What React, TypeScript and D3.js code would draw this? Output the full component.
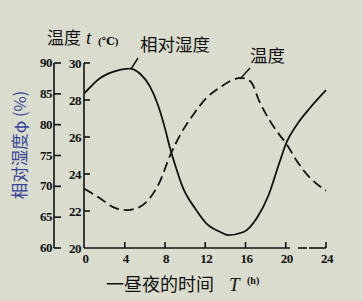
import React from "react";
import * as d3 from "d3";

const xTicks = [0, 4, 8, 12, 16, 20, 24];
const tempTicks = [20, 22, 24, 26, 28, 30];
const humTicks = [60, 65, 70, 75, 80, 85, 90];

const humHours = [0, 1.5, 2.9, 4.5, 5.5, 6.5, 7.3, 8, 8.5, 9, 9.8, 11, 12.1, 13.5, 14.3, 15.8, 17.1, 18.3, 19.3, 20.1, 21.1, 22.4, 24];
const humValues = [85.1, 87.5, 88.6, 89.1, 88.3, 86.2, 83.2, 79.4, 76.2, 73.5, 69.7, 66.4, 64.0, 62.6, 62.1, 62.6, 64.8, 68.6, 73.5, 77.2, 80.0, 82.7, 85.6];

const tempHours = [0, 1.5, 2.9, 4.2, 5.2, 6.5, 7.5, 8.5, 9.5, 10.8, 12.1, 13.5, 14.8, 15.5, 16.5, 17.4, 18.4, 19.4, 20.1, 21.1, 22.4, 24];
const tempValues = [23.2, 22.7, 22.2, 22.05, 22.15, 22.7, 23.6, 25.0, 26.1, 27.2, 28.1, 28.7, 29.1, 29.2, 29.0, 27.9, 26.9, 26.1, 25.6, 24.7, 23.8, 23.1];

export default function App() {
  const W = 363, H = 301;
  const x = d3.scaleLinear().domain([0, 24]).range([84.5, 326]);
  const yT = d3.scaleLinear().domain([20, 30]).range([248, 63]);
  const yH = d3.scaleLinear().domain([60, 90]).range([248, 63]);

  const humLine = d3
    .line<number>()
    .x((_, i) => x(humHours[i]))
    .y((d) => yH(d))
    .curve(d3.curveMonotoneX);
  const tempLine = d3
    .line<number>()
    .x((_, i) => x(tempHours[i]))
    .y((d) => yT(d))
    .curve(d3.curveMonotoneX);

  const numFont = "'Liberation Serif', 'DejaVu Serif', serif";
  const cjk = "'Noto Sans CJK SC', sans-serif";
  const serif = "'Liberation Serif', 'DejaVu Serif', serif";
  const ink = "#111";
  const outerX = 54;
  const innerX = 84;
  const base = 248;

  return (
    <svg
      width={W}
      height={H}
      style={{ position: "absolute", left: 0, top: 0, background: "#dadccd" }}
    >
      <rect x={0} y={0} width={W} height={H} fill="#dadccd" />

      {/* outer humidity axis */}
      <line x1={outerX} x2={outerX} y1={yH(90)} y2={yH(60)} stroke={ink} strokeWidth={1.6} />
      {humTicks.map((t) => (
        <g key={"h" + t}>
          <line x1={outerX} x2={outerX + 7} y1={yH(t)} y2={yH(t)} stroke={ink} strokeWidth={1.6} />
          <text
            x={outerX - 2}
            y={yH(t) + 4}
            textAnchor="end"
            fontFamily={numFont}
            fontSize={13}
            fontWeight="bold"
            letterSpacing={-0.5}
            fill={ink}
          >
            {t}
          </text>
        </g>
      ))}

      {/* inner temperature axis */}
      <line x1={innerX} x2={innerX} y1={yT(30)} y2={yT(20)} stroke={ink} strokeWidth={1.6} />
      {tempTicks.map((t) => (
        <g key={"t" + t}>
          {t !== 20 && (
            <line x1={innerX} x2={innerX + 6} y1={yT(t)} y2={yT(t)} stroke={ink} strokeWidth={1.6} />
          )}
          <text
            x={innerX - 3}
            y={yT(t) + 5}
            textAnchor="end"
            fontFamily={numFont}
            fontSize={13}
            fontWeight="bold"
            letterSpacing={-0.5}
            fill={ink}
          >
            {t}
          </text>
        </g>
      ))}

      {/* x axis */}
      <line x1={innerX} x2={290} y1={base} y2={base} stroke={ink} strokeWidth={1.6} />
      <line x1={298} x2={307} y1={base} y2={base} stroke={ink} strokeWidth={1.6} />
      <line x1={309} x2={x(24)} y1={base} y2={base} stroke={ink} strokeWidth={1.6} />
      {xTicks.map((t) => (
        <g key={"x" + t}>
          {t !== 0 && (
            <line x1={x(t)} x2={x(t)} y1={base} y2={base - 6} stroke={ink} strokeWidth={1.6} />
          )}
          <text
            x={x(t) + 1}
            y={base + 15}
            textAnchor="middle"
            fontFamily={numFont}
            fontSize={13}
            fontWeight="bold"
            letterSpacing={-0.5}
            fill={ink}
          >
            {t}
          </text>
        </g>
      ))}

      {/* curves */}
      <path d={humLine(humValues) || ""} fill="none" stroke={ink} strokeWidth={1.8} />
      <path
        d={tempLine(tempValues) || ""}
        fill="none"
        stroke={ink}
        strokeWidth={1.8}
        strokeDasharray="10,5"
      />

      {/* leaders */}
      <line x1={138} y1={58} x2={131} y2={69} stroke={ink} strokeWidth={1.4} />
      <line x1={250} y1={68} x2={240} y2={79} stroke={ink} strokeWidth={1.4} />

      {/* titles */}
      <text x={47} y={44} fontFamily={cjk} fontSize={17} fill={ink}>
        温度
      </text>
      <text x={86} y={44} fontFamily={serif} fontStyle="italic" fontSize={19} fill={ink}>
        t
      </text>
      <text x={98} y={45} fontFamily={numFont} fontWeight="bold" fontSize={11} fill={ink}>
        (℃)
      </text>

      <text x={140} y={51} fontFamily={cjk} fontSize={17.5} fill={ink}>
        相对湿度
      </text>
      <text x={250} y={62} fontFamily={cjk} fontSize={17.5} fill={ink}>
        温度
      </text>

      <text x={106} y={291} fontFamily={cjk} fontSize={18} fill={ink}>
        一昼夜的时间
      </text>
      <text x={229} y={291} fontFamily={serif} fontStyle="italic" fontSize={19} fill={ink}>
        T
      </text>
      <text x={247} y={284} fontFamily={numFont} fontWeight="bold" fontSize={10} fill={ink}>
        (h)
      </text>

      <text
        transform="translate(26,145) rotate(-90)"
        textAnchor="middle"
        fontFamily={cjk}
        fontSize={16.5}
        fill="#34449a"
      >
        相对湿度φ (%)
      </text>
    </svg>
  );
}
